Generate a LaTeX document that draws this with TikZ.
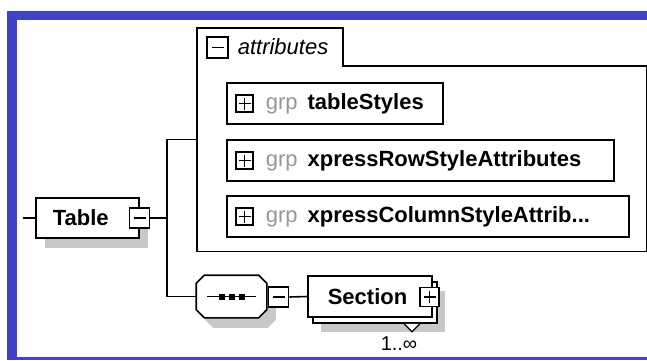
\documentclass[tikz,border=0pt]{standalone}
\usepackage{fontspec}
\setmainfont{Liberation Sans}
\usetikzlibrary{positioning,calc,shadows}
\definecolor{frameblue}{RGB}{64,66,200}
\definecolor{shadowgray}{RGB}{200,200,200}
\definecolor{grpgray}{RGB}{150,150,150}

\begin{document}
\begin{tikzpicture}[
        x=1pt, y=-1pt,
        line width=1.6pt,
        every node/.style={font=\fontsize{22}{26}\selectfont, inner sep=0pt},
        shadowed/.style={drop shadow={shadow xshift=9pt, shadow yshift=-10pt, fill=shadowgray, opacity=1}},
        elembox/.style={draw, fill=white, minimum height=41pt, align=left},
        grpbox/.style={draw, fill=white, minimum height=41pt, anchor=west, align=left, inner xsep=16pt},
        minusbox/.style={draw, fill=white, minimum size=20pt,
            path picture={\draw[line width=1.4pt] ([xshift=-6pt]path picture bounding box.center) -- ([xshift=6pt]path picture bounding box.center);}},
        plusbox/.style={draw, fill=white, minimum size=20pt,
            path picture={\draw[line width=1.4pt] ([xshift=-6pt]path picture bounding box.center) -- ([xshift=6pt]path picture bounding box.center)
                ([yshift=-6pt]path picture bounding box.center) -- ([yshift=6pt]path picture bounding box.center);}},
    ]
        \useasboundingbox (0,0) rectangle (647,360);
        \fill[frameblue] (7,11) rectangle (647,360);
        \fill[white] (17,20) rectangle (647,357);

        % attributes box with its tab
        \node[minimum width=448pt, minimum height=222.3pt, anchor=north west] (attr) at (197,27.7) {};
        \draw (attr.south west) -- (attr.north west) -- ++(146,0) -- ++(0,38.3) -| (attr.south east) -- cycle;
        \node[minusbox, minimum size=21pt] (attrtoggle) at (217.5,47.5) {};
        \node[anchor=west, font=\fontsize{22}{26}\selectfont\itshape] (attrlabel) at (237,47) {attributes};

        \node[grpbox, minimum width=216pt, text width=184pt] (grpstyles) at (226,103.5)
            {\hspace*{23pt}{\color{grpgray}grp}\hspace{10pt}\textbf{tableStyles}};
        \node[grpbox, minimum width=387pt, text width=355pt] (grprow) at (226,160.5)
            {\hspace*{23pt}{\color{grpgray}grp}\hspace{10pt}\textbf{xpressRowStyleAttributes}};
        \node[grpbox, minimum width=402pt, text width=370pt] (grpcol) at (226,216.5)
            {\mbox{\hspace*{23pt}{\color{grpgray}grp}\hspace{10pt}\textbf{xpressColumnStyleAttrib...}}};
        \foreach \g in {grpstyles,grprow,grpcol}
            \node[plusbox, minimum size=17pt] (\g toggle) at ($(\g.west)+(18.5,0)$) {};

        % Table element
        \node[elembox, shadowed, minimum height=40pt, anchor=west, text width=69pt, inner xsep=17pt] (table) at (35,218) {\textbf{Table}};
        \node[minusbox] (tabletoggle) at (table.east) {};

        % sequence compositor
        \node[minimum width=69pt, minimum height=41pt] (seq) at (231.5,296.5) {};
        \draw[fill=white, shadowed]
            ($(seq.north west)+(8,0)$) -- ($(seq.north east)+(-8,0)$) -- ($(seq.north east)+(0,8)$)
            -- ($(seq.south east)+(0,-8)$) -- ($(seq.south east)+(-8,0)$) -- ($(seq.south west)+(8,0)$)
            -- ($(seq.south west)+(0,-8)$) -- ($(seq.north west)+(0,8)$) -- cycle;
        \draw ($(seq.center)+(-24.5,0)$) -- ($(seq.center)+(24.5,0)$);
        \foreach \dx in {-9.5,0.5,10.5}
            \fill ($(seq.center)+(\dx,0)+(-3,-3)$) rectangle ++(6,6);
        \node[minusbox, anchor=west] (seqtoggle) at ($(seq.east)+(1,0.5)$) {};

        % Section element (repeating)
        \node[elembox, minimum width=124pt, drop shadow={shadow xshift=8pt, shadow yshift=-9pt, fill=shadowgray, opacity=1}] (sectionback) at (375,302.5) {};
        \node[elembox, anchor=west, text width=84pt, inner xsep=20pt] (section) at (307,296.5) {\textbf{Section}};
        \node[plusbox, minimum size=19pt] (sectiontoggle) at ($(section.east)+(-3,0.5)$) {};
        \draw[fill=white, line width=1.2pt] ($(sectionback.south)+(29,0)$) -- ++(8,8) -- ++(8,-8);
        \node[font=\fontsize{20}{24}\selectfont] (occurs) at (399,344) {1..∞};

        % connectors
        \coordinate (tablein) at (23,218);
        \coordinate (fork) at (167,218);
        \draw (tablein) -- (table);
        \draw (tabletoggle.east) -- (fork);
        \draw (attr.west) -| (fork) |- (seq.west);
        \draw (seqtoggle.east) -- (section.west);
    \end{tikzpicture}
\end{document}
